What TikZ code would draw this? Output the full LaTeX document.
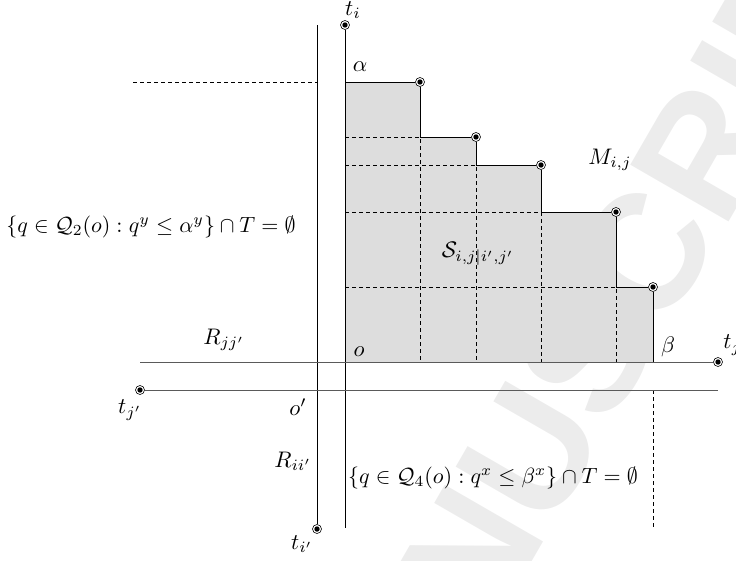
\documentclass[tikz,border=0pt]{standalone}
\usepackage{fontspec}
\newfontfamily\wmfont{Liberation Sans}
\usetikzlibrary{backgrounds}
\definecolor{fillgray}{RGB}{221,221,221}
\definecolor{wmgray}{RGB}{236,236,236}
\definecolor{hgray}{RGB}{90,90,90}
\tikzset{
  tp/.style={circle, draw, line width=0.6pt, minimum size=9pt, inner sep=0pt, fill=white,
    path picture={\fill[black] (path picture bounding box.center) circle (2.7pt);}},
  lab/.style={inner sep=0pt, font=\normalsize, scale=2.25, transform shape},
  formula/.style={inner sep=0pt, font=\normalsize, scale=2.2, transform shape},
  vline/.style={line width=0.9pt, black},
  hline/.style={line width=0.9pt, hgray},
  dline/.style={line width=0.8pt, black, dash pattern=on 4pt off 3pt},
  wm/.style={inner sep=0pt, text=wmgray, font=\wmfont\bfseries\fontsize{165}{165}\selectfont}
}
\begin{document}
\begin{tikzpicture}[x=1pt,y=-1pt]
\useasboundingbox (0,0) rectangle (736,560);
% named points
\coordinate (a) at (345,82);
\coordinate (o) at (345,362);
\coordinate (b) at (653,362);
\coordinate (c1) at (420,137);
\coordinate (c2) at (476,165);
\coordinate (c3) at (541,212);
\coordinate (c4) at (616,287);
\coordinate (e1) at (345,137);
\coordinate (e2) at (345,165);
\coordinate (e3) at (345,212);
\coordinate (e4) at (345,287);
\coordinate (d1) at (420,362);
\coordinate (d2) at (476,362);
\coordinate (d3) at (541,362);
\coordinate (d4) at (616,362);
\coordinate (lt) at (317,25);
\coordinate (rb) at (345,528);
\coordinate (hl) at (140,362);
\coordinate (hr) at (718,390);
\coordinate (dl) at (133,82);
\coordinate (dk) at (317,82);
\coordinate (bd1) at (653,390);
\coordinate (bd2) at (653,528);
% terminal points
\node[tp] (ti) at (345,25) {};
\node[tp] (p1) at (420,82) {};
\node[tp] (p2) at (476,137) {};
\node[tp] (p3) at (541,165) {};
\node[tp] (p4) at (616,212) {};
\node[tp] (p5) at (653,287) {};
\node[tp] (tj) at (718,362) {};
\node[tp] (tjp) at (140,390) {};
\node[tp] (tip) at (317,529) {};
% background: watermark and region
\begin{scope}[on background layer]
  \node[wm, rotate=60] (wmk) at (349,766) {ACCEPTED MANUSCRIPT};
  \fill[fillgray] (a) -- (p1.center) -- (c1) -- (p2.center) -- (c2) -- (p3.center) -- (c3)
    -- (p4.center) -- (c4) -- (p5.center) -- (b) -- (o) -- cycle;
\end{scope}
% dashed lines
\draw[dline] (dl) -- (dk);
\draw[dline] (e1) -- (c1) -- (d1);
\draw[dline] (e2) -- (c2) -- (d2);
\draw[dline] (e3) -- (c3) -- (d3);
\draw[dline] (e4) -- (c4) -- (d4);
\draw[dline] (bd1) -- (bd2);
% solid lines
\draw[vline] (lt) -- (tip);
\draw[vline] (ti) -- (rb);
\draw[hline] (hl) -- (tj);
\draw[hline] (tjp) -- (hr);
\draw[vline] (a) -- (p1) -- (c1) -- (p2) -- (c2) -- (p3) -- (c3) -- (p4) -- (c4) -- (p5) -- (b);
% labels
\node[lab] (lti) at (353,10) {$t_i$};
\node[lab] (lal) at (360,67) {$\alpha$};
\node[lab] (lM) at (610,160) {$M_{i,j}$};
\node[lab] (lS) at (478,254) {$\mathcal{S}_{i,j|i',j'}$};
\node[formula] (lQ2) at (151,227) {$\{q\in\mathcal{Q}_2(o):q^y\leq\alpha^y\}\cap T=\emptyset$};
\node[lab] (lRj) at (224,340) {$R_{jj'}$};
\node[lab] (lo) at (359,352) {$o$};
\node[lab] (ltjp) at (130,410) {$t_{j'}$};
\node[lab] (lop) at (298,407) {$o'$};
\node[lab] (lRi) at (293,461) {$R_{ii'}$};
\node[lab] (ltip) at (302,544) {$t_{i'}$};
\node[lab] (lbe) at (668,347) {$\beta$};
\node[lab, anchor=west] (ltj) at (723,345) {$t_j$};
\node[formula] (lQ4) at (493,478) {$\{q\in\mathcal{Q}_4(o):q^x\leq\beta^x\}\cap T=\emptyset$};
\end{tikzpicture}
\end{document}
